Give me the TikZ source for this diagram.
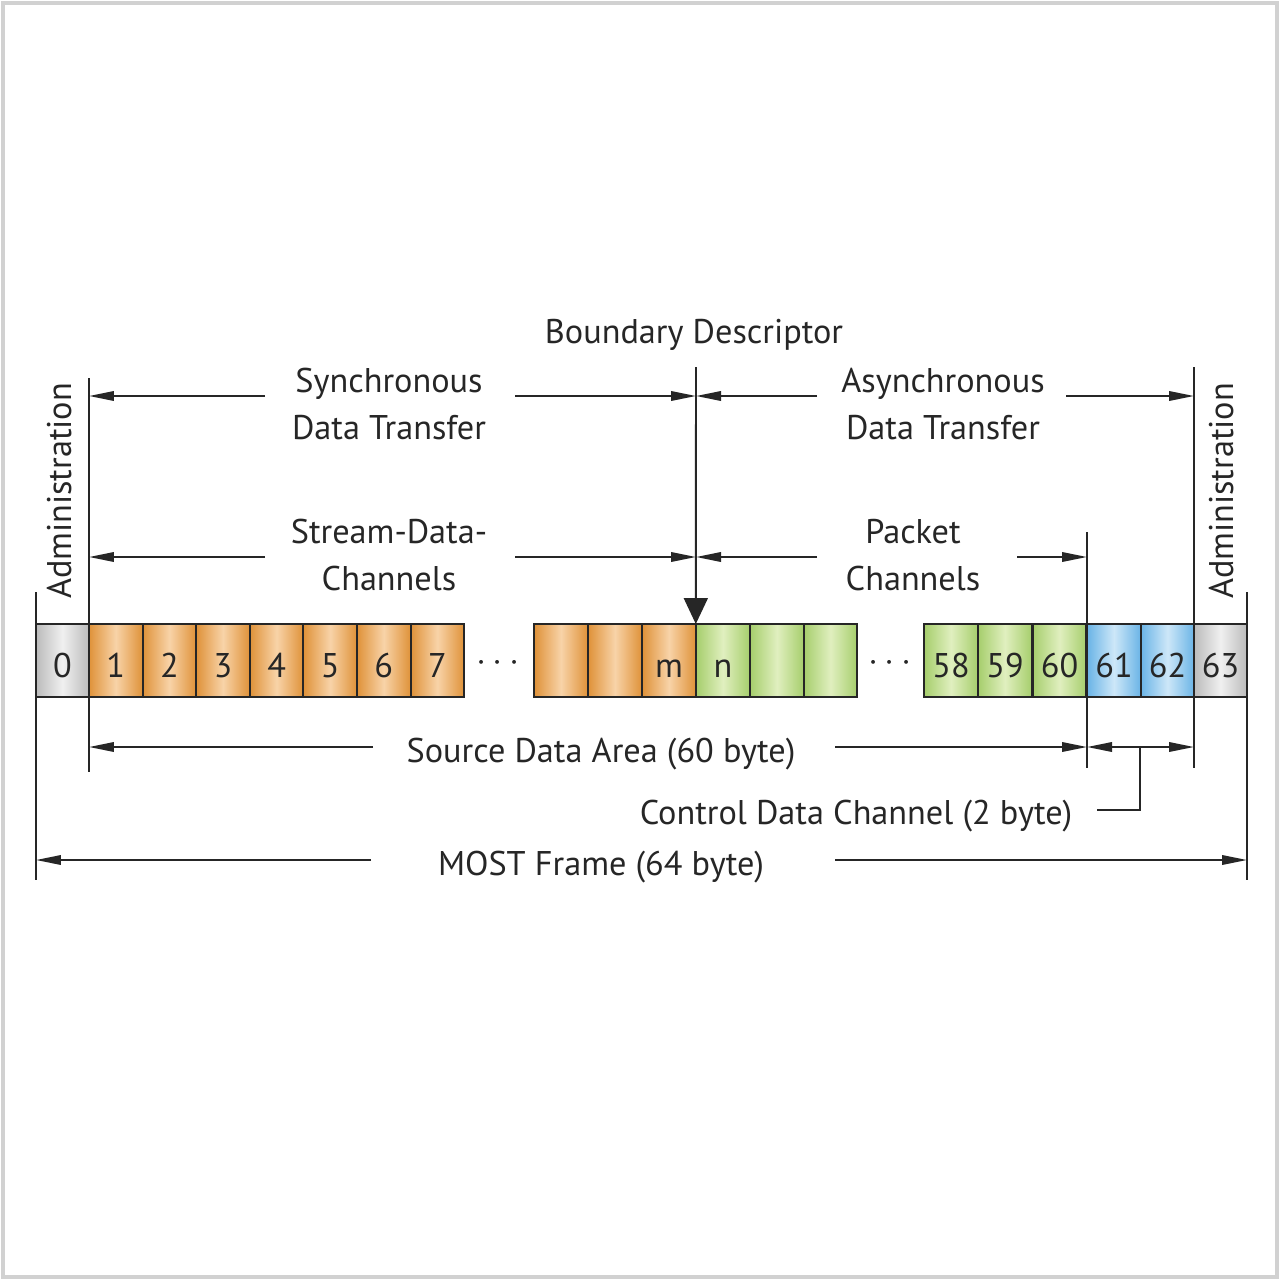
\documentclass[tikz,border=0pt]{standalone}
\usepackage{fontspec}
\setmainfont{PT Sans}
\usetikzlibrary{arrows.meta}
\definecolor{orangeedge}{HTML}{DF9239}
\definecolor{orangemid}{HTML}{F8D3A8}
\definecolor{greenedge}{HTML}{A6CE6C}
\definecolor{greenmid}{HTML}{E0EFBF}
\definecolor{blueedge}{HTML}{6AB4E6}
\definecolor{bluemid}{HTML}{CDE7F8}
\definecolor{grayedge}{HTML}{BBBBBB}
\definecolor{graymid}{HTML}{F0F0F0}
\definecolor{ink}{HTML}{262626}
\tikzset{
  cell/.style={draw=ink, line width=1.1pt, minimum width=1.072cm, minimum height=1.46cm,
    inner sep=0pt, outer sep=0pt, text=ink, text height=0.67cm, text depth=0pt,
    font=\fontsize{19.5}{23}\selectfont},
  orangecell/.style={left color=orangeedge, right color=orangeedge, middle color=orangemid},
  greencell/.style={left color=greenedge, right color=greenedge, middle color=greenmid},
  bluecell/.style={left color=blueedge, right color=blueedge, middle color=bluemid},
  graycell/.style={left color=grayedge, right color=grayedge, middle color=graymid},
  txt/.style={align=center, text=ink, inner sep=0pt, font=\fontsize{19.5}{26.5}\selectfont},
  rule/.style={draw=ink, line width=1.1pt},
  dim/.style={rule, -{Triangle[length=0.5cm,width=0.19cm]}},
  twodim/.style={rule, {Triangle[length=0.5cm,width=0.19cm]}-{Triangle[length=0.5cm,width=0.19cm]}},
  bdarrow/.style={rule, -{Triangle[length=0.52cm,width=0.48cm]}}
}
\begin{document}
\begin{tikzpicture}[x=0.02cm, y=-0.02cm]
    \useasboundingbox (0,0) rectangle (1280,1280);
    \draw[line width=2pt, black!18] (3,3) rectangle (1277,1277);
    % cells
    \node[cell, graycell] (c0) at (62.5,660.5) {0};
    \foreach \i in {1,...,7}
        \node[cell, orangecell] (c\i) at ({115.8+53.6*(\i-1)},660.5) {\i};
    \node[cell, orangecell] (o1) at (561,660.5) {};
    \node[cell, orangecell] (o2) at (615,660.5) {};
    \node[cell, orangecell] (m) at (669,660.5) {m};
    \node[cell, greencell] (n) at (723,660.5) {n};
    \node[cell, greencell] (g2) at (777,660.5) {};
    \node[cell, greencell] (g3) at (830.5,660.5) {};
    \node[cell, greencell] (c58) at (951,660.5) {58};
    \node[cell, greencell] (c59) at (1005,660.5) {59};
    \node[cell, greencell] (c60) at (1059.5,660.5) {60};
    \node[cell, bluecell] (c61) at (1114,660.5) {61};
    \node[cell, bluecell] (c62) at (1167.5,660.5) {62};
    \node[cell, graycell] (c63) at (1220.5,660.5) {63};
    \node[txt] (dotsA) at (498,663) {$\cdots$};
    \node[txt] (dotsB) at (890,663) {$\cdots$};
    % texts
    \node[txt, rotate=90] (admL) at (60,491) {Administration};
    \node[txt, rotate=90] (admR) at (1222,491) {Administration};
    \node[txt] (bd) at (694,335) {Boundary Descriptor};
    \node[txt] (sync) at (389,404) {Synchronous\\Data Transfer};
    \node[txt] (async) at (943,404) {Asynchronous\\Data Transfer};
    \node[txt] (stream) at (389,555) {Stream-Data-\\Channels};
    \node[txt] (packet) at (913,555) {Packet\\Channels};
    \node[txt] (sda) at (601,754) {Source Data Area (60 byte)};
    \node[txt] (cdc) at (856,816) {Control Data Channel (2 byte)};
    \node[txt] (most) at (601,867) {MOST Frame (64 byte)};
    % vertical rules
    \coordinate (fL1) at (36,592);   \coordinate (fL2) at (36,880);
    \coordinate (sL1) at (89,378);   \coordinate (sL2) at (89,772);
    \coordinate (bdTop) at (696,367);
    \coordinate (pR1) at (1087,532); \coordinate (pR2) at (1087,768);
    \coordinate (aR1) at (1194,367); \coordinate (aR2) at (1194,768);
    \coordinate (fR1) at (1247,592); \coordinate (fR2) at (1247,880);
    \draw[rule] (fL1) -- (fL2);
    \draw[rule] (sL1) -- (sL2);
    \draw[rule] (pR1) -- (pR2);
    \draw[rule] (aR1) -- (aR2);
    \draw[rule] (fR1) -- (fR2);
    \draw[bdarrow] (bdTop) -- (m.north east);
    % transfer arrows
    \coordinate (syncL) at (89,396);   \coordinate (syncA) at (265,396);
    \coordinate (syncB) at (515,396);  \coordinate (syncR) at (696,396);
    \coordinate (asyncA) at (817,396); \coordinate (asyncB) at (1066,396);
    \coordinate (asyncR) at (1194,396);
    \draw[dim] (syncA) -- (syncL);
    \draw[dim] (syncB) -- (syncR);
    \draw[dim] (asyncA) -- (syncR);
    \draw[dim] (asyncB) -- (asyncR);
    % channel arrows
    \coordinate (strL) at (89,557);   \coordinate (strA) at (265,557);
    \coordinate (strB) at (515,557);  \coordinate (strR) at (696,557);
    \coordinate (pckA) at (817,557);  \coordinate (pckB) at (1017,557);
    \coordinate (pckR) at (1087,557);
    \draw[dim] (strA) -- (strL);
    \draw[dim] (strB) -- (strR);
    \draw[dim] (pckA) -- (strR);
    \draw[dim] (pckB) -- (pckR);
    % source data area and control channel
    \coordinate (sdaL) at (89,747);   \coordinate (sdaA) at (373,747);
    \coordinate (sdaB) at (835,747);  \coordinate (sdaR) at (1087,747);
    \coordinate (cdcR) at (1194,747); \coordinate (cdcM) at (1140,747);
    \coordinate (cdcEnd) at (1097,810);
    \draw[dim] (sdaA) -- (sdaL);
    \draw[dim] (sdaB) -- (sdaR);
    \draw[twodim] (sdaR) -- (cdcR);
    \draw[rule] (cdcM) |- (cdcEnd);
    % frame
    \coordinate (mfL) at (36,860);   \coordinate (mfA) at (371,860);
    \coordinate (mfB) at (835,860);  \coordinate (mfR) at (1247,860);
    \draw[dim] (mfA) -- (mfL);
    \draw[dim] (mfB) -- (mfR);
\end{tikzpicture}
\end{document}
